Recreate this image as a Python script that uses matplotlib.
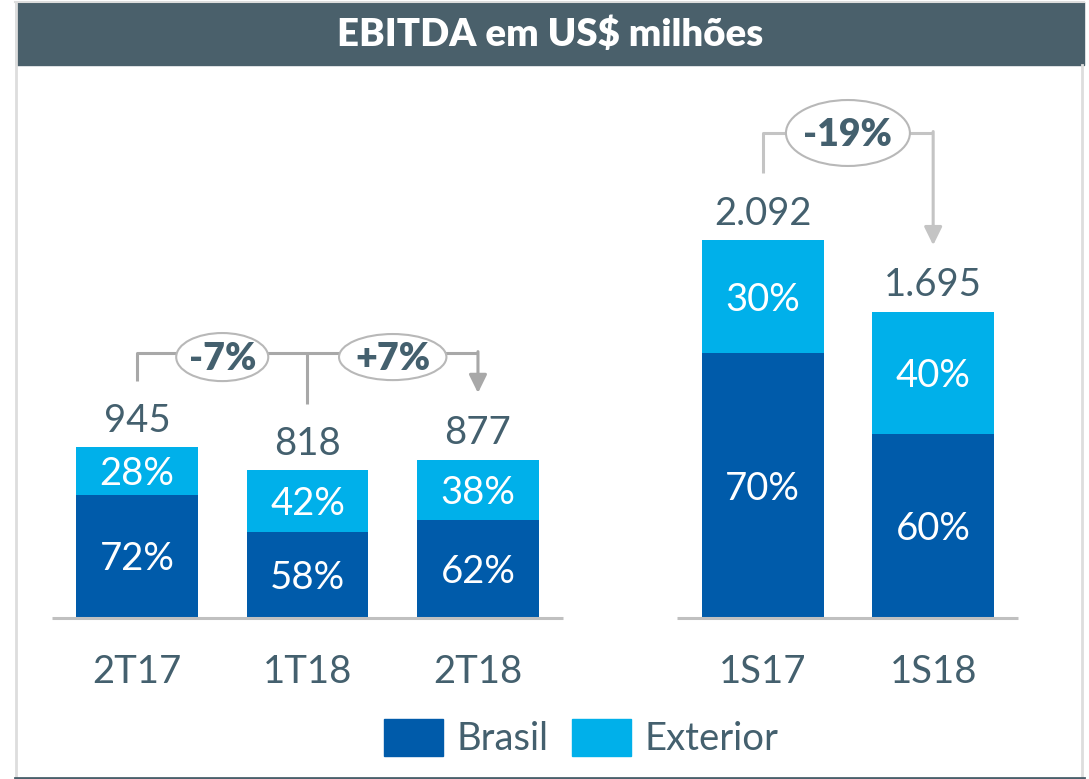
import matplotlib.pyplot as plt
from matplotlib.patches import Rectangle, Ellipse, Patch
from matplotlib.lines import Line2D

plt.rcParams['font.family'] = ['Lato', 'DejaVu Sans']

# Data
categories = ['2T17', '1T18', '2T18', '1S17', '1S18']
totals = [945, 818, 877, 2092, 1695]
total_labels = ['945', '818', '877', '2.092', '1.695']
brasil_pct = [72, 58, 62, 70, 60]
exterior_pct = [28, 42, 38, 30, 40]
# variation label, from bar, to bar
changes = [('-7%', 0, 1), ('+7%', 1, 2), ('-19%', 3, 4)]
title = 'EBITDA em US\\$ milhões'

# Colours
BRASIL = '#005BAA'
EXTERIOR = '#00B0EA'
TEXT = '#44606E'
HEADER = '#4A606B'
LINE = '#A8A8A8'

W, H = 1089, 779
fig = plt.figure(figsize=(W / 100, H / 100), dpi=100)
ax = fig.add_axes([0, 0, 1, 1])
ax.set_xlim(-0.8035, 5.584)
ax.set_ylim(-891, 3420)
ax.axis('off')

xpos = [0, 1, 2, 3.67, 4.67]
width = 0.715

brasil = [t * p / 100 for t, p in zip(totals, brasil_pct)]
exterior = [t - b for t, b in zip(totals, brasil)]

ax.bar(xpos, brasil, width=width, color=BRASIL, zorder=2)
ax.bar(xpos, exterior, width=width, bottom=brasil, color=EXTERIOR, zorder=2)

# baselines for the two groups
for grp in ([0, 1, 2], [3, 4]):
    x0, x1 = xpos[grp[0]] - 0.5, xpos[grp[-1]] + 0.5
    ax.plot([x0, x1], [0, 0], color='#C0C0C0', lw=2.2, zorder=3, solid_capstyle='butt')

for i, x in enumerate(xpos):
    # segment labels
    ax.annotate(f'{brasil_pct[i]}%', (x, brasil[i] / 2), xytext=(0, -10), textcoords='offset points',
                ha='center', va='baseline', color='white', fontsize=27.5, zorder=4)
    ax.annotate(f'{exterior_pct[i]}%', (x, brasil[i] + exterior[i] / 2), xytext=(0, -10),
                textcoords='offset points', ha='center', va='baseline', color='white',
                fontsize=27.5, zorder=4)
    # totals
    ax.annotate(total_labels[i], (x, totals[i]), xytext=(0, 11), textcoords='offset points',
                ha='center', va='baseline', color=TEXT, fontsize=27.5)
    # categories
    ax.annotate(categories[i], (x, 0), xytext=(0, -47), textcoords='offset points',
                ha='center', va='baseline', color=TEXT, fontsize=27.5)

# variation brackets
gap = 368
lc = dict(color=LINE, lw=2.2, zorder=3, solid_capstyle='butt')
arrow = dict(arrowstyle='-|>,head_length=0.55,head_width=0.27', color=LINE, lw=2.2,
             shrinkA=0, shrinkB=0, mutation_scale=20)

# left group: 2T17 -> 1T18 -> 2T18
lvl = max(totals[0:3]) + 521
ax.plot([xpos[0], xpos[0], xpos[2]], [totals[0] + gap, lvl, lvl], **lc)
ax.plot([xpos[1], xpos[1]], [lvl, totals[1] + gap], **lc)
ax.annotate('', xy=(xpos[2], totals[2] + gap), xytext=(xpos[2], lvl + 8), arrowprops=arrow)

# right group: 1S17 -> 1S18
lvl_r = max(totals[3:5]) + 592
lc_r = dict(lc, color='#C4C4C4')
ax.plot([xpos[3], xpos[3], xpos[4]], [totals[3] + gap, lvl_r, lvl_r], **lc_r)
ax.annotate('', xy=(xpos[4], totals[4] + gap), xytext=(xpos[4], lvl_r + 8),
            arrowprops=dict(arrow, color='#C4C4C4'))

ell_size = {'-7%': (0.54, 266), '+7%': (0.63, 255), '-19%': (0.727, 365)}
for label, a, b in changes:
    cx = (xpos[a] + xpos[b]) / 2
    cy = (lvl if b <= 2 else lvl_r) - (22 if b <= 2 else 0)
    w, h = ell_size[label]
    ax.add_patch(Ellipse((cx, cy), w, h, facecolor='white', edgecolor='#B8B8B8', lw=1.5, zorder=5))
    ax.annotate(label, (cx, cy), xytext=(0, -9.5), textcoords='offset points', ha='center',
                va='baseline', color=TEXT, fontsize=27, fontweight='heavy', zorder=6)

# legend
fig.legend(handles=[Patch(color=BRASIL, label='Brasil'), Patch(color=EXTERIOR, label='Exterior')],
           loc='center', bbox_to_anchor=(0.5335, 0.0526), ncol=2, frameon=False, fontsize=27.5,
           handlelength=1.55, handleheight=1.15, handletextpad=0.35, columnspacing=0.6,
           labelcolor=TEXT, borderaxespad=0, borderpad=0)

# header and frame
fig.patches.append(Rectangle((16 / W, 1 - 65 / H), (1084 - 16) / W, 63 / H,
                             transform=fig.transFigure, color=HEADER, zorder=1))
fig.text(0.505, 1 - 34 / H, title, ha='center', va='center', color='white',
         fontsize=27.5, fontweight='heavy')
fig.add_artist(Line2D([15.5 / W, 15.5 / W], [1 - 777 / H, 1 - 2 / H], color='#DDDDDD', lw=2))
fig.add_artist(Line2D([1082 / W, 1082 / W], [1 - 777 / H, 1 - 65 / H], color='#DDDDDD', lw=2))
fig.add_artist(Line2D([15 / W, 1084 / W], [1 - 1.5 / H, 1 - 1.5 / H], color='#DDDDDD', lw=1.5))
fig.add_artist(Line2D([15 / W, 1084 / W], [1 - 777.5 / H, 1 - 777.5 / H], color=HEADER, lw=2))

fig.savefig('out.png', dpi=100)
